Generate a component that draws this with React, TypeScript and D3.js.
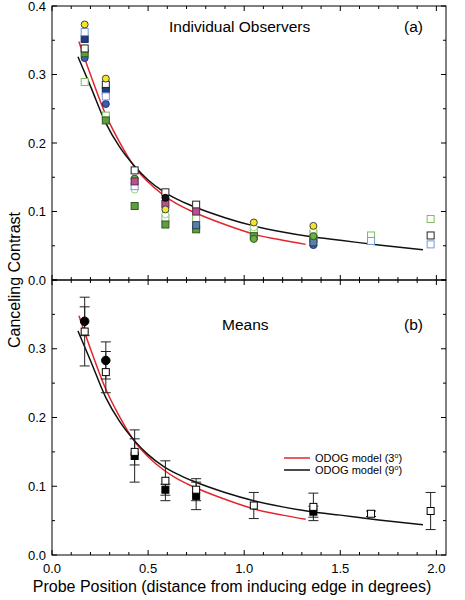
import React from "react";
import * as d3 from "d3";

// ---------- data ----------
const probePositions = [0.17, 0.28, 0.43, 0.59, 0.75, 1.05, 1.36, 1.66, 1.97];

// Individual observers (panel a); null = no point
const obsYellowCircle = [0.373, 0.294, null, 0.103, null, 0.084, 0.079, null, null];
const obsNavySquare = [0.352, 0.276, null, null, null, null, null, null, null];
const obsLightBlueOpenSquare = [0.362, 0.268, 0.137, null, null, null, null, 0.057, 0.052];
const obsBlackOpenSquare = [0.338, 0.285, 0.160, 0.128, 0.110, null, null, null, 0.065];
const obsGreenSquare = [0.331, 0.233, 0.108, 0.081, 0.074, 0.064, 0.060, null, null];
const obsBlueCircle = [0.324, 0.257, null, null, null, null, 0.051, null, null];
const obsBlueGreySquare = [null, null, null, null, 0.080, null, 0.055, null, null];
const obsLightGreenOpenSquare = [0.289, 0.240, null, 0.090, 0.090, 0.071, 0.067, 0.065, 0.089];
const obsMagentaSquare = [null, null, 0.144, 0.111, 0.100, null, null, null, null];
const obsBlackCircle = [null, null, null, 0.120, null, null, null, null, null];
const obsGreenCircle = [null, null, 0.148, null, null, 0.060, 0.064, null, null];
const obsWhiteCircle = [null, null, 0.132, 0.096, null, 0.077, 0.073, null, null];

// Means (panel b)
const meanOpen = [0.325, 0.266, 0.150, 0.108, 0.095, 0.072, 0.070, 0.060, 0.064];
const meanOpenErr = [0.050, 0.030, 0.019, 0.029, 0.016, 0.019, 0.020, 0.004, 0.027];
const meanFilled = [0.340, 0.283, 0.144, 0.095, 0.086, null, 0.063, null, null];
const meanFilledErr = [0.021, 0.027, 0.038, 0.008, 0.020, null, 0.008, null, null];
const meanFilledShape = ["circle", "circle", "square", "square", "square", null, "square", null, null];

// ODOG model curves
const odog3X = [0.14, 0.20, 0.28, 0.35, 0.43, 0.50, 0.58, 0.65, 0.73, 0.90, 1.05, 1.20, 1.32];
const odog3Y = [0.348, 0.300, 0.241, 0.202, 0.165, 0.143, 0.124, 0.111, 0.100, 0.081, 0.067, 0.058, 0.052];
const odog9X = [0.135, 0.20, 0.28, 0.35, 0.43, 0.50, 0.58, 0.65, 0.73, 0.90, 1.05, 1.20, 1.35, 1.50, 1.70, 1.93];
const odog9Y = [0.326, 0.283, 0.229, 0.195, 0.166, 0.146, 0.129, 0.118, 0.108, 0.091, 0.079, 0.070, 0.063, 0.058, 0.051, 0.044];

const xTickLabels = ["0.0", "0.5", "1.0", "1.5", "2.0"];
const yTickLabelsA = ["0.0", "0.1", "0.2", "0.3", "0.4"];
const yTickLabelsB = ["0.0", "0.1", "0.2", "0.3"];

// ---------- styles ----------
type Obs = { vals: (number | null)[]; shape: string; fill: string; stroke: string };
const observers: Obs[] = [
  { vals: obsLightGreenOpenSquare, shape: "square", fill: "#ffffff", stroke: "#7dbd5e" },
  { vals: obsBlueCircle, shape: "circle", fill: "#3a5fb0", stroke: "#1d2f66" },
  { vals: obsGreenSquare, shape: "square", fill: "#5f9e3d", stroke: "#2f5a1f" },
  { vals: obsBlueGreySquare, shape: "square", fill: "#5b80a6", stroke: "#2a3f5a" },
  { vals: obsWhiteCircle, shape: "circle", fill: "#ffffff", stroke: "#9ccf7a" },
  { vals: obsGreenCircle, shape: "circle", fill: "#6aae45", stroke: "#2f5a1f" },
  { vals: obsBlackOpenSquare, shape: "square", fill: "#ffffff", stroke: "#222222" },
  { vals: obsNavySquare, shape: "square", fill: "#1f3d80", stroke: "#15254a" },
  { vals: obsLightBlueOpenSquare, shape: "square", fill: "#ffffff", stroke: "#7a9ad6" },
  { vals: obsMagentaSquare, shape: "square", fill: "#b5528f", stroke: "#5a2a4a" },
  { vals: obsBlackCircle, shape: "circle", fill: "#111111", stroke: "#000000" },
  { vals: obsYellowCircle, shape: "circle", fill: "#f4e42a", stroke: "#444444" },
];

const FONT = "'Liberation Sans', Arial, Helvetica, sans-serif";
const L = 52, R = 446;
const A_TOP = 6, A_BOT = 280, B_TOP = 280, B_BOT = 555;

function Marker({ shape, cx, cy, fill, stroke, size }: any) {
  if (shape === "circle")
    return <circle cx={cx} cy={cy} r={size / 2} fill={fill} stroke={stroke} strokeWidth={1} />;
  return (
    <rect x={cx - size / 2} y={cy - size / 2} width={size} height={size} fill={fill} stroke={stroke} strokeWidth={1} />
  );
}

export default function App() {
  const x = d3.scaleLinear().domain([0, 2.05]).range([L, R]);
  const yA = d3.scaleLinear().domain([0, 0.4]).range([A_BOT, A_TOP]);
  const yB = d3.scaleLinear().domain([0, 0.4]).range([B_BOT, B_TOP]);

  const xTicks = d3.range(0, 21).map((i) => i / 10);
  const yTicks = d3.range(0, 9).map((i) => i * 0.05);

  const curve = (xs: number[], ys: number[], y: any) =>
    d3
      .line<number>()
      .x((_, i) => x(xs[i]))
      .y((d) => y(d))
      .curve(d3.curveMonotoneX)(ys) as string;

  const panelFrame = (y: any, top: number, bot: number, key: string) => (
    <g key={key}>
      <rect x={L} y={top} width={R - L} height={bot - top} fill="none" stroke="#000" strokeWidth={1} />
      {xTicks.map((t, i) => {
        const major = Math.abs((t * 10) % 5) < 1e-6;
        const len = major ? 5 : 3;
        const px = x(t);
        return (
          <g key={"xt" + i}>
            <line x1={px} x2={px} y1={bot} y2={bot - len} stroke="#000" />
            <line x1={px} x2={px} y1={top} y2={top + len} stroke="#000" />
          </g>
        );
      })}
      {yTicks.map((t, i) => {
        const major = i % 2 === 0;
        const len = major ? 5 : 3;
        const py = y(t);
        return (
          <g key={"yt" + i}>
            <line x1={L} x2={L + len} y1={py} y2={py} stroke="#000" />
            <line x1={R} x2={R - len} y1={py} y2={py} stroke="#000" />
          </g>
        );
      })}
    </g>
  );

  const ErrBar = ({ cx, v, e, y }: any) => (
    <g stroke="#222" strokeWidth={1}>
      <line x1={cx} x2={cx} y1={y(v + e)} y2={y(v - e)} />
      <line x1={cx - 5} x2={cx + 5} y1={y(v + e)} y2={y(v + e)} />
      <line x1={cx - 5} x2={cx + 5} y1={y(v - e)} y2={y(v - e)} />
    </g>
  );

  return (
    <svg width={465} height={600} style={{ position: "absolute", left: 0, top: 0, background: "#fff" }} fontFamily={FONT}>
      <rect x={0} y={0} width={465} height={600} fill="#fff" />
      {/* Panel a */}
      <path d={curve(odog3X, odog3Y, yA)} fill="none" stroke="#e3262b" strokeWidth={1.5} />
      <path d={curve(odog9X, odog9Y, yA)} fill="none" stroke="#111" strokeWidth={1.5} />
      {observers.map((o, oi) =>
        o.vals.map((v, i) =>
          v == null ? null : (
            <Marker key={oi + "-" + i} shape={o.shape} cx={x(probePositions[i])} cy={yA(v)} fill={o.fill} stroke={o.stroke} size={7} />
          )
        )
      )}
      {panelFrame(yA, A_TOP, A_BOT, "fa")}
      <text x={169} y={32} fontSize={15.5}>Individual Observers</text>
      <text x={404} y={32} fontSize={15.5}>(a)</text>

      {/* Panel b */}
      <path d={curve(odog3X, odog3Y, yB)} fill="none" stroke="#e3262b" strokeWidth={1.5} />
      <path d={curve(odog9X, odog9Y, yB)} fill="none" stroke="#111" strokeWidth={1.5} />
      {meanOpen.map((v, i) => (
        <ErrBar key={"eo" + i} cx={x(probePositions[i])} v={v} e={meanOpenErr[i]} y={yB} />
      ))}
      {meanFilled.map((v, i) =>
        v == null ? null : <ErrBar key={"ef" + i} cx={x(probePositions[i])} v={v} e={meanFilledErr[i] as number} y={yB} />
      )}
      {meanFilled.map((v, i) =>
        v == null ? null : (
          <Marker key={"mf" + i} shape={meanFilledShape[i]} cx={x(probePositions[i])} cy={yB(v)} fill="#000" stroke="#000" size={meanFilledShape[i] === "circle" ? 8.5 : 7} />
        )
      )}
      {meanOpen.map((v, i) => (
        <Marker key={"mo" + i} shape="square" cx={x(probePositions[i])} cy={yB(v)} fill="#fff" stroke="#000" size={7} />
      ))}
      {panelFrame(yB, B_TOP, B_BOT, "fb")}
      <text x={222} y={330} fontSize={15.5}>Means</text>
      <text x={404} y={330} fontSize={15.5}>(b)</text>

      {/* legend */}
      <line x1={284} x2={310} y1={458} y2={458} stroke="#e3262b" strokeWidth={1.5} />
      <line x1={284} x2={310} y1={470} y2={470} stroke="#111" strokeWidth={1.5} />
      <text x={315} y={462} fontSize={11}>
        ODOG model  (3<tspan dy={-4} fontSize={7}>o</tspan><tspan dy={4}>)</tspan>
      </text>
      <text x={315} y={474} fontSize={11}>
        ODOG model  (9<tspan dy={-4} fontSize={7}>o</tspan><tspan dy={4}>)</tspan>
      </text>

      {/* y tick labels */}
      {yTickLabelsA.map((s, i) => (
        <text key={"la" + i} x={46} y={yA(i * 0.1) + 4.5} fontSize={13} textAnchor="end">{s}</text>
      ))}
      {yTickLabelsB.map((s, i) => (
        <text key={"lb" + i} x={46} y={yB(i * 0.1) + 4.5} fontSize={13} textAnchor="end">{s}</text>
      ))}
      {/* x tick labels */}
      {xTickLabels.map((s, i) => (
        <text key={"lx" + i} x={x(i * 0.5)} y={573} fontSize={13} textAnchor="middle">{s}</text>
      ))}
      {/* axis titles */}
      <text x={232} y={592} fontSize={16} textAnchor="middle">Probe Position (distance from inducing edge in degrees)</text>
      <text transform="translate(20,280) rotate(-90)" fontSize={16} textAnchor="middle">Canceling Contrast</text>
    </svg>
  );
}
